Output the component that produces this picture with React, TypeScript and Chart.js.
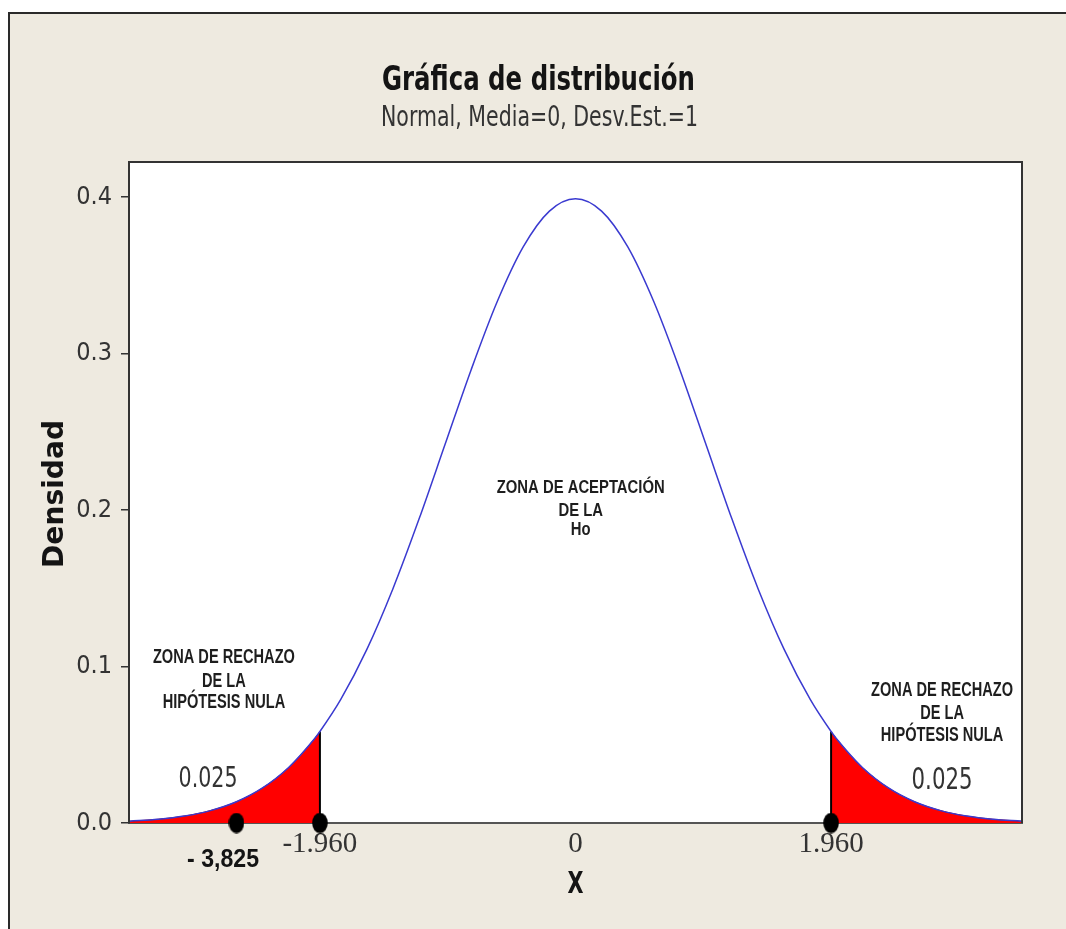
import React, { useEffect, useRef } from 'react';
import { Chart, registerables } from 'chart.js';

Chart.register(...registerables);

// ---- Data ----
const curveX = [-3.42, -3.2, -3.0, -2.8, -2.6, -2.4, -2.2, -2.0, -1.96, -1.8, -1.6, -1.4, -1.2, -1.0, -0.8, -0.6, -0.4, -0.2, 0, 0.2, 0.4, 0.6, 0.8, 1.0, 1.2, 1.4, 1.6, 1.8, 1.96, 2.0, 2.2, 2.4, 2.6, 2.8, 3.0, 3.2, 3.42];
const curveY = [0.00115, 0.00238, 0.00443, 0.00792, 0.01358, 0.02239, 0.03547, 0.05399, 0.05844, 0.07895, 0.11092, 0.14973, 0.19419, 0.24197, 0.28969, 0.33322, 0.36827, 0.39104, 0.39894, 0.39104, 0.36827, 0.33322, 0.28969, 0.24197, 0.19419, 0.14973, 0.11092, 0.07895, 0.05844, 0.05399, 0.03547, 0.02239, 0.01358, 0.00792, 0.00443, 0.00238, 0.00115];

const criticalLow = -1.96;
const criticalHigh = 1.96;
const criticalDensity = 0.05844;

const markerX = [-2.6, -1.96, 1.96];
const markerY = [0, 0, 0];

const xTickValues = [-1.96, 0, 1.96];
const xTickLabels = ['-1.960', '0', '1.960'];
const yTickValues = [0, 0.1, 0.2, 0.3, 0.4];

const titleText = 'Gráfica de distribución';
const subtitleText = 'Normal, Media=0, Desv.Est.=1';
const yAxisTitle = 'Densidad';
const xAxisTitle = 'X';
const acceptLines = ['ZONA DE ACEPTACIÓN', 'DE LA', 'Ho'];
const rejectLines = ['ZONA DE RECHAZO', 'DE LA', 'HIPÓTESIS NULA'];
const tailProbability = '0.025';
const markerLabel = '- 3,825';

const X_MIN = -3.424;
const X_MAX = 3.424;
const Y_MIN = 0;
const Y_MAX = 0.4224;

// ---- helpers ----
function capHeight(ctx: CanvasRenderingContext2D, font: string) {
  ctx.save();
  ctx.font = font;
  const h = ctx.measureText('H').actualBoundingBoxAscent;
  ctx.restore();
  return h;
}
function textWidth(ctx: CanvasRenderingContext2D, font: string, t: string) {
  ctx.save();
  ctx.font = font;
  const w = ctx.measureText(t).width;
  ctx.restore();
  return w;
}
function drawText(ctx: CanvasRenderingContext2D, t: string, cx: number, cy: number, font: string, sx: number, sy: number, color: string, rot = 0) {
  ctx.save();
  ctx.font = font;
  ctx.fillStyle = color;
  ctx.textAlign = 'center';
  ctx.textBaseline = 'alphabetic';
  const ch = ctx.measureText('H').actualBoundingBoxAscent;
  ctx.translate(cx, cy);
  if (rot) ctx.rotate(rot);
  ctx.scale(sx, sy);
  ctx.fillText(t, 0, ch / 2);
  ctx.restore();
}
function drawFit(ctx: CanvasRenderingContext2D, t: string, cx: number, cy: number, font: string, w: number, cap: number, color: string, rot = 0) {
  const sx = w / textWidth(ctx, font, t);
  const sy = cap / capHeight(ctx, font);
  drawText(ctx, t, cx, cy, font, sx, sy, color, rot);
}
function drawBlock(ctx: CanvasRenderingContext2D, lines: string[], cx: number, ys: number[], font: string, w: number, cap: number, color: string) {
  const sx = w / textWidth(ctx, font, lines[0]);
  const sy = cap / capHeight(ctx, font);
  lines.forEach((l, i) => drawText(ctx, l, cx, ys[i], font, sx, sy, color));
}

const framePlugin = {
  id: 'frame',
  beforeDraw(chart: any) {
    const { ctx, width, height, chartArea } = chart;
    ctx.save();
    ctx.fillStyle = '#ffffff';
    ctx.fillRect(0, 0, width, height);
    ctx.fillStyle = '#eeeae0';
    ctx.fillRect(10, 14, width - 10, height - 14);
    ctx.fillStyle = '#2a2a2a';
    ctx.fillRect(8, 12, width - 8, 2);
    ctx.fillRect(8, 12, 2, height - 12);
    ctx.fillStyle = '#ffffff';
    ctx.fillRect(chartArea.left, chartArea.top, chartArea.right - chartArea.left, chartArea.bottom - chartArea.top);
    ctx.restore();
  },
  afterDraw(chart: any) {
    const { ctx, chartArea } = chart;
    const xs = chart.scales.x;
    const ys = chart.scales.y;
    const px = (v: number) => xs.getPixelForValue(v);
    const py = (v: number) => ys.getPixelForValue(v);
    ctx.save();
    ctx.strokeStyle = '#333333';
    ctx.lineWidth = 2;
    ctx.beginPath();
    ctx.moveTo(chartArea.left, chartArea.bottom);
    ctx.lineTo(chartArea.left, chartArea.top);
    ctx.lineTo(chartArea.right, chartArea.top);
    ctx.lineTo(chartArea.right, chartArea.bottom);
    ctx.stroke();
    ctx.restore();

    const cx = (chartArea.left + chartArea.right) / 2;
    // title & subtitle
    drawFit(ctx, titleText, cx - 37, 77.5, 'bold 28px "DejaVu Sans"', 313, 25, '#141414');
    drawFit(ctx, subtitleText, cx - 36, 115.5, '22px "DejaVu Sans"', 317, 21, '#333333');
    // axis titles
    drawFit(ctx, yAxisTitle, 52, 494, 'bold 22px "DejaVu Sans"', 148, 21, '#141414', -Math.PI / 2);
    drawFit(ctx, xAxisTitle, px(0), 882, 'bold 22px "DejaVu Sans"', 16, 22, '#141414');

    // annotations
    const annFont = 'bold 18px "Liberation Sans"';
    drawBlock(ctx, acceptLines, px(0.04), [py(0.2153), py(0.2006), py(0.1885)], annFont, 168, 13, '#1e1e1e');
    drawBlock(ctx, rejectLines, px(-2.696), [py(0.1067), py(0.0914), py(0.078)], annFont, 142, 14, '#1e1e1e');
    drawBlock(ctx, rejectLines, px(2.811), [py(0.0856), py(0.0709), py(0.0569)], annFont, 142, 14, '#1e1e1e');
    drawFit(ctx, tailProbability, px(-2.818), py(0.0294), '22px "DejaVu Sans"', 59, 21, '#333333');
    drawFit(ctx, tailProbability, px(2.811), py(0.0288), '22px "DejaVu Sans"', 61, 22, '#333333');
    drawFit(ctx, markerLabel, px(-2.703), 858, 'bold 20px "Liberation Sans"', 72, 18, '#141414');
  },
};

export default function App() {
  const ref = useRef<HTMLCanvasElement | null>(null);
  useEffect(() => {
    if (!ref.current) return;
    const dot = document.createElement('canvas');
    dot.width = 16;
    dot.height = 21;
    const d = dot.getContext('2d')!;
    d.fillStyle = '#000000';
    d.beginPath();
    d.ellipse(8, 10.5, 7.8, 10.3, 0, 0, Math.PI * 2);
    d.fill();

    const curve = curveX.map((x, i) => ({ x, y: curveY[i] }));
    const leftTail = curve.filter((p) => p.x <= criticalLow);
    const rightTail = curve.filter((p) => p.x >= criticalHigh);

    const chart = new Chart(ref.current, {
      type: 'line',
      data: {
        datasets: [
          {
            label: 'puntos',
            data: markerX.map((x, i) => ({ x, y: markerY[i] })),
            showLine: false,
            pointStyle: dot as any,
            pointRadius: 10,
            pointHoverRadius: 10,
            clip: false as any,
            order: 0,
          },
          {
            label: 'Normal',
            data: curve,
            borderColor: '#3a3ad0',
            borderWidth: 1.5,
            pointRadius: 0,
            cubicInterpolationMode: 'monotone',
            fill: false,
            order: 1,
          },
          {
            label: 'crit-',
            data: [{ x: criticalLow, y: 0 }, { x: criticalLow, y: criticalDensity }],
            borderColor: '#000000',
            borderWidth: 2,
            pointRadius: 0,
            order: 2,
          },
          {
            label: 'crit+',
            data: [{ x: criticalHigh, y: 0 }, { x: criticalHigh, y: criticalDensity }],
            borderColor: '#000000',
            borderWidth: 2,
            pointRadius: 0,
            order: 2,
          },
          {
            label: 'cola izq',
            data: leftTail,
            fill: 'origin',
            backgroundColor: '#ff0000',
            borderColor: '#b00000',
            borderWidth: 1,
            pointRadius: 0,
            cubicInterpolationMode: 'monotone',
            order: 3,
          },
          {
            label: 'cola der',
            data: rightTail,
            fill: 'origin',
            backgroundColor: '#ff0000',
            borderColor: '#b00000',
            borderWidth: 1,
            pointRadius: 0,
            cubicInterpolationMode: 'monotone',
            order: 3,
          },
        ],
      },
      options: {
        animation: false,
        responsive: false,
        devicePixelRatio: 1,
        layout: { padding: { top: 162, right: 44, left: 0, bottom: 0 } },
        plugins: {
          legend: { display: false },
          title: { display: false },
          tooltip: { enabled: false },
        },
        events: [],
        scales: {
          x: {
            type: 'linear',
            min: X_MIN,
            max: X_MAX,
            afterBuildTicks: (s: any) => {
              s.ticks = xTickValues.map((v) => ({ value: v }));
            },
            afterFit: (s: any) => {
              s.height = 106;
            },
            ticks: {
              autoSkip: false,
              maxRotation: 0,
              padding: 4,
              color: '#333333',
              font: { family: 'Liberation Serif', size: 29 },
              callback: (_v: any, i: number) => xTickLabels[i],
            },
            grid: { display: false, drawTicks: false },
            border: { display: true, color: '#555555', width: 2 },
          },
          y: {
            type: 'linear',
            min: Y_MIN,
            max: Y_MAX,
            afterBuildTicks: (s: any) => {
              s.ticks = yTickValues.map((v) => ({ value: v }));
            },
            afterFit: (s: any) => {
              s.width = 129;
            },
            ticks: {
              padding: 9,
              color: '#333333',
              font: { family: 'DejaVu Sans Condensed', size: 25 },
              callback: (v: any) => Number(v).toFixed(1),
            },
            grid: { drawOnChartArea: false, drawTicks: true, tickLength: 8, color: '#333333', lineWidth: 1.5 },
            border: { display: true, color: '#333333', width: 2 },
          },
        },
      },
      plugins: [framePlugin],
    });
    return () => chart.destroy();
  }, []);

  return (
    <div style={{ position: 'absolute', left: 0, top: 0, width: 1066, height: 929 }}>
      <canvas ref={ref} width={1066} height={929} style={{ display: 'block' }} />
    </div>
  );
}
